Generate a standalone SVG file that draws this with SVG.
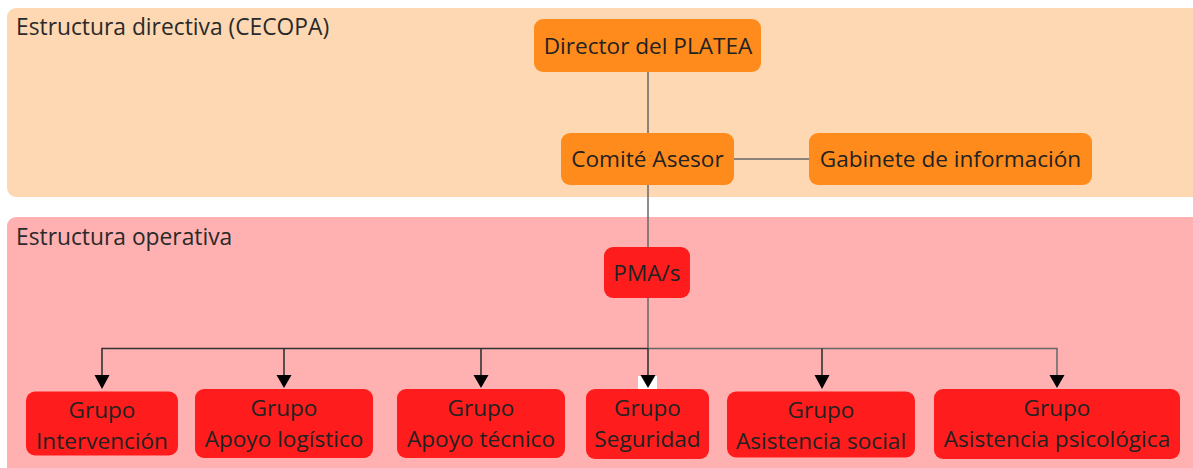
<svg xmlns="http://www.w3.org/2000/svg" width="1193" height="468" viewBox="0 0 1193 468">
<style>
  .band-top { fill: #FED8B2; }
  .band-bot { fill: #FFB1B1; }
  .orange { fill: #FF8B1C; }
  .red { fill: #FF1C1C; }
  text { font-family: "Open Sans", "Noto Sans", sans-serif; fill: #222; }
  .title { font-size: 22.8px; fill: #2a2a2a; }
  .lbl { font-size: 22.6px; text-anchor: middle; }
  .gray { stroke: #666; stroke-width: 1.5; fill: none; }
  .dark { stroke: #333; stroke-width: 1.6; fill: none; }
</style>
<g id="band-directiva">
  <rect class="band-top" x="7" y="8" width="1200" height="189" rx="9"/>
  <text class="title" x="16" y="35">Estructura directiva (CECOPA)</text>
</g>
<g id="band-operativa">
  <rect class="band-bot" x="7" y="217" width="1200" height="270" rx="9"/>
  <text class="title" x="16" y="245">Estructura operativa</text>
</g>
<g id="connectors">
  <line class="gray" x1="648" y1="72" x2="648" y2="133"/>
  <line class="gray" x1="734" y1="159" x2="809" y2="159"/>
  <line class="gray" x1="648" y1="185" x2="648" y2="247"/>
  <line class="gray" x1="648" y1="298" x2="648" y2="349"/>
  <polyline class="dark" points="102,376 102,348.5 648,348.5"/>
  <polyline class="gray" points="648,348.5 1057,348.5 1057,376"/>
  <line class="dark" x1="284" y1="348.5" x2="284" y2="376"/>
  <line class="dark" x1="481" y1="348.5" x2="481" y2="376"/>
  <line class="dark" x1="822" y1="348.5" x2="822" y2="376"/>
  <rect x="638" y="376" width="19" height="13" fill="#fff"/>
  <line class="dark" x1="648" y1="348.5" x2="648" y2="376"/>
  <g fill="#000">
    <path d="M94.5,375 L109.5,375 L102,389 Z"/>
    <path d="M276.5,375 L291.5,375 L284,388 Z"/>
    <path d="M473.5,375 L488.5,375 L481,388 Z"/>
    <path d="M640.5,375 L655.5,375 L648,388 Z"/>
    <path d="M814.5,375 L829.5,375 L822,389 Z"/>
    <path d="M1049.5,375 L1064.5,375 L1057,388 Z"/>
  </g>
</g>
<g id="director">
  <rect class="orange" x="534" y="19" width="227" height="53" rx="9"/>
  <text class="lbl" x="648" y="54">Director del PLATEA</text>
</g>
<g id="comite">
  <rect class="orange" x="561" y="133" width="173" height="52" rx="9"/>
  <text class="lbl" x="647.5" y="167">Comité Asesor</text>
</g>
<g id="gabinete">
  <rect class="orange" x="809" y="133" width="283" height="52" rx="9"/>
  <text class="lbl" x="950.5" y="167">Gabinete de información</text>
</g>
<g id="pma">
  <rect class="red" x="604" y="247" width="86" height="51" rx="9"/>
  <text class="lbl" x="647" y="281">PMA/s</text>
</g>
<g id="g-intervencion">
  <rect class="red" x="26" y="391.5" width="152" height="64" rx="9"/>
  <text class="lbl" x="102" y="418">Grupo</text>
  <text class="lbl" x="102" y="449">Intervención</text>
</g>
<g id="g-logistico">
  <rect class="red" x="195" y="389" width="178" height="69" rx="9"/>
  <text class="lbl" x="284" y="416">Grupo</text>
  <text class="lbl" x="284" y="447">Apoyo logístico</text>
</g>
<g id="g-tecnico">
  <rect class="red" x="397" y="389" width="168" height="69" rx="9"/>
  <text class="lbl" x="481" y="416">Grupo</text>
  <text class="lbl" x="481" y="447">Apoyo técnico</text>
</g>
<g id="g-seguridad">
  <rect class="red" x="586" y="389" width="123" height="70" rx="9"/>
  <text class="lbl" x="647.5" y="416">Grupo</text>
  <text class="lbl" x="647.5" y="447">Seguridad</text>
</g>
<g id="g-social">
  <rect class="red" x="727" y="391.5" width="188" height="66" rx="9"/>
  <text class="lbl" x="821" y="418">Grupo</text>
  <text class="lbl" x="821" y="449">Asistencia social</text>
</g>
<g id="g-psicologica">
  <rect class="red" x="934" y="389" width="246" height="70" rx="9"/>
  <text class="lbl" x="1057" y="416">Grupo</text>
  <text class="lbl" x="1057" y="447">Asistencia psicológica</text>
</g>
</svg>
